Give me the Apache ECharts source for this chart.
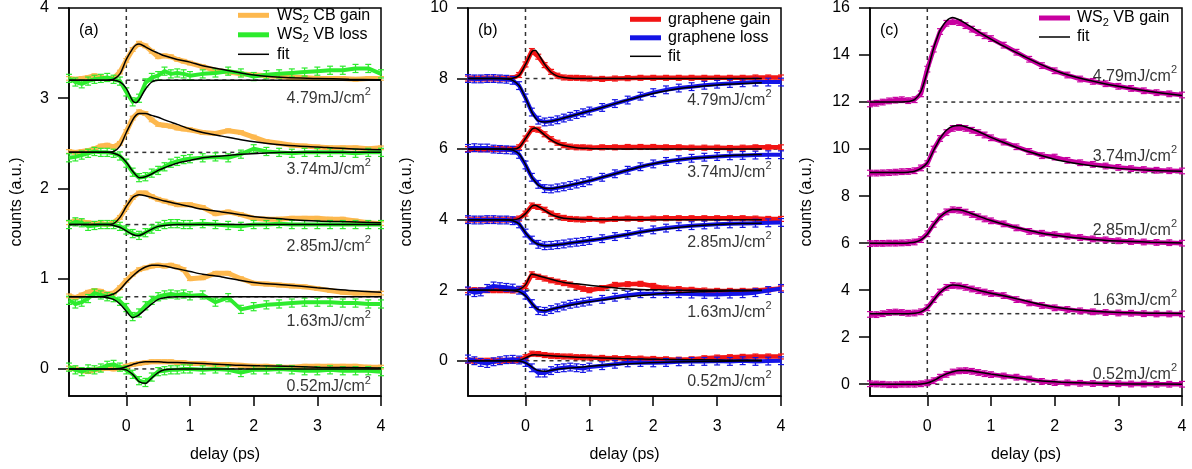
<!DOCTYPE html>
<html>
<head>
<meta charset="utf-8">
<script src="https://cdn.jsdelivr.net/npm/echarts@6/dist/echarts.min.js"></script>
<style>
  html, body { margin: 0; padding: 0; background: #fff; }
  #chart { width: 1192px; height: 469px; }
</style>
</head>
<body>
<div id="chart"></div>
<script>
// ---------------------------------------------------------------------------
// Pump-probe transients: WS2 / graphene heterostructure, five pump fluences.
// Curves are vertically offset for clarity (offsets listed per panel).
// ---------------------------------------------------------------------------

// delay axis of the measured traces (ps)
const delay = [-0.9,-0.8,-0.7,-0.6,-0.5,-0.4,-0.3,-0.2,-0.1,0,0.1,0.2,0.3,0.4,0.5,0.6,0.7,0.8,0.9,1.0,
               1.2,1.4,1.6,1.8,2.0,2.2,2.4,2.6,2.8,3.0,3.2,3.4,3.6,3.8,4.0];
// delay axis of the fitted curves (ps)
const fitDelay  = [-0.9,-0.4,-0.3,-0.2,-0.1,0,0.1,0.15,0.2,0.3,0.4,0.5,0.6,0.8,1.0,1.2,1.5,1.8,2.1,2.5,3.0,3.5,4.0];
const fitDelayB = [-0.9,-0.4,-0.3,-0.2,-0.1,0,0.1,0.15,0.2,0.3,0.4,0.5,0.6,0.8,1.0,1.2,1.5,1.8,2.1,2.5,3.0,3.4,3.7];

const fluences = ['4.79', '3.74', '2.85', '1.63', '0.52'];
const offsetsA = [3.2, 2.4, 1.6, 0.8, 0];
const offsetsB = [8, 6, 4, 2, 0];
const offsetsC = [12, 9, 6, 3, 0];

const xTicks  = [0, 1, 2, 3, 4];
const yTicksA = [0, 1, 2, 3, 4];
const yTicksB = [0, 2, 4, 6, 8, 10];
const yTicksC = [0, 2, 4, 6, 8, 10, 12, 14, 16];

// ----- panel (a): WS2 CB gain / WS2 VB loss -----
const cbGain479 = [3.22,3.21,3.22,3.23,3.25,3.23,3.21,3.22,3.29,3.42,3.54,3.61,3.58,3.52,3.46,3.47,3.46,3.43,3.41,3.39,3.35,3.31,3.29,3.27,3.26,3.25,3.24,3.23,3.23,3.22,3.22,3.22,3.21,3.22,3.22];
const cbGain374 = [2.41,2.40,2.41,2.42,2.44,2.47,2.48,2.46,2.50,2.63,2.78,2.85,2.83,2.76,2.71,2.70,2.69,2.67,2.66,2.65,2.62,2.61,2.64,2.62,2.57,2.52,2.50,2.48,2.47,2.46,2.45,2.45,2.45,2.44,2.45];
const cbGain285 = [1.62,1.64,1.63,1.62,1.61,1.61,1.60,1.62,1.68,1.79,1.90,1.95,1.95,1.91,1.88,1.86,1.84,1.82,1.82,1.82,1.79,1.72,1.74,1.71,1.67,1.66,1.66,1.67,1.67,1.67,1.66,1.66,1.64,1.62,1.61];
const cbGain163 = [0.81,0.79,0.82,0.85,0.87,0.86,0.83,0.84,0.90,0.98,1.05,1.10,1.12,1.14,1.15,1.14,1.15,1.13,1.10,1.00,1.01,1.06,1.06,1.00,0.95,0.94,0.93,0.92,0.91,0.89,0.87,0.85,0.84,0.84,0.84];
const cbGain052 = [0.01,0.00,-0.02,-0.03,-0.01,0.00,0.01,0.00,0.01,0.03,0.05,0.06,0.07,0.08,0.08,0.08,0.08,0.07,0.07,0.06,0.06,0.05,0.05,0.04,0.03,0.03,0.02,0.02,0.03,0.03,0.03,0.03,0.03,0.02,0.02];

const vbLoss479 = [3.22,3.18,3.16,3.19,3.21,3.22,3.23,3.21,3.19,3.07,2.96,3.00,3.17,3.23,3.25,3.30,3.27,3.28,3.27,3.25,3.27,3.28,3.30,3.28,3.24,3.26,3.27,3.28,3.29,3.30,3.31,3.31,3.33,3.33,3.27];
const vbLoss374 = [2.34,2.35,2.37,2.39,2.41,2.40,2.40,2.39,2.36,2.28,2.18,2.12,2.13,2.17,2.20,2.24,2.28,2.30,2.32,2.33,2.34,2.35,2.34,2.38,2.44,2.41,2.40,2.39,2.40,2.40,2.40,2.40,2.39,2.40,2.40];
const vbLoss285 = [1.60,1.63,1.62,1.58,1.59,1.60,1.60,1.60,1.58,1.54,1.50,1.48,1.51,1.55,1.58,1.60,1.61,1.61,1.60,1.60,1.61,1.60,1.59,1.58,1.60,1.60,1.61,1.60,1.60,1.60,1.60,1.60,1.60,1.60,1.60];
const vbLoss163 = [0.76,0.72,0.74,0.78,0.84,0.82,0.80,0.79,0.75,0.68,0.58,0.62,0.70,0.76,0.80,0.82,0.83,0.82,0.83,0.81,0.82,0.74,0.79,0.66,0.69,0.71,0.72,0.73,0.74,0.74,0.74,0.73,0.73,0.72,0.72];
const vbLoss052 = [0.02,-0.01,-0.03,0.00,-0.01,0.01,0.04,0.05,0.02,-0.01,-0.06,-0.13,-0.15,-0.09,-0.03,-0.02,-0.01,-0.01,0.00,0.00,-0.01,0.00,-0.01,-0.04,-0.01,-0.01,0.00,-0.01,-0.02,-0.02,-0.01,-0.02,-0.02,-0.02,-0.03];

const cbFit479 = [3.2,3.2,3.2,3.21,3.27,3.43,3.55,3.59,3.6,3.57,3.53,3.5,3.47,3.43,3.4,3.36,3.32,3.28,3.25,3.23,3.22,3.21,3.205];
const cbFit374 = [2.4,2.4,2.4,2.41,2.47,2.62,2.76,2.81,2.83,2.83,2.81,2.79,2.76,2.71,2.66,2.62,2.58,2.54,2.51,2.48,2.46,2.44,2.43];
const cbFit285 = [1.6,1.6,1.6,1.61,1.68,1.8,1.9,1.92,1.93,1.92,1.9,1.88,1.86,1.83,1.8,1.77,1.74,1.71,1.68,1.66,1.64,1.63,1.62];
const cbFit163 = [0.8,0.8,0.81,0.83,0.88,0.96,1.03,1.06,1.09,1.13,1.15,1.15,1.14,1.11,1.08,1.05,1.02,0.98,0.95,0.93,0.9,0.87,0.85];
const cbFit052 = [0,0,0,0,0.005,0.025,0.05,0.06,0.07,0.08,0.08,0.08,0.075,0.07,0.065,0.06,0.05,0.04,0.035,0.03,0.02,0.015,0.01];

const vbFit479 = [3.2,3.2,3.2,3.2,3.18,3.11,2.97,2.95,2.98,3.1,3.18,3.2,3.2,3.2,3.2,3.2,3.2,3.2,3.2,3.2,3.2,3.2,3.2];
const vbFit374 = [2.4,2.4,2.4,2.39,2.36,2.29,2.19,2.15,2.12,2.13,2.16,2.2,2.23,2.28,2.31,2.34,2.36,2.38,2.39,2.4,2.4,2.4,2.4];
const vbFit285 = [1.6,1.6,1.6,1.59,1.57,1.53,1.49,1.48,1.48,1.51,1.55,1.58,1.59,1.6,1.6,1.6,1.6,1.6,1.6,1.6,1.6,1.6,1.6];
const vbFit163 = [0.8,0.8,0.79,0.77,0.72,0.64,0.57,0.58,0.6,0.66,0.72,0.77,0.79,0.8,0.8,0.8,0.8,0.8,0.8,0.8,0.8,0.8,0.8];
const vbFit052 = [0,0,0,0,0,-0.01,-0.06,-0.1,-0.14,-0.16,-0.1,-0.04,-0.01,0,0,0,0,0,0,0,0,0,0];

// ----- panel (b): graphene gain / graphene loss -----
const grGain479 = [8,8,8,8,8,8,8,8.01,8.1,8.4,8.78,8.62,8.38,8.19,8.08,8.03,8.02,8.02,8.01,8.0,7.99,8.0,8.01,8.02,8.02,8.02,8.02,8.02,8.02,8.02,8.02,8.02,8.03,8.03,8.03];
const grGain374 = [6,6,6,6,6,6,6,6,6.05,6.3,6.57,6.55,6.42,6.28,6.18,6.11,6.07,6.05,6.05,6.04,6.05,6.05,6.06,6.06,6.06,6.05,6.05,6.04,6.04,6.04,6.03,6.04,6.05,6.05,6.05];
const grGain285 = [4,4,4,4,4,4,4,4,4.03,4.17,4.4,4.36,4.28,4.17,4.1,4.05,4.02,4.01,4.0,4.02,3.98,4.02,4.03,4.02,4.03,4.04,4.04,4.04,4.04,4.04,4.04,4.04,4.03,4.02,4.02];
const grGain163 = [2.0,2.0,2.0,2.0,2.0,2.0,2.0,1.99,2.02,2.12,2.45,2.38,2.33,2.28,2.24,2.2,2.16,2.1,2.04,2.0,2.06,2.15,2.17,2.18,2.12,2.05,2.03,2.01,1.99,1.98,1.98,1.98,1.99,2.02,2.05];
const grGain052 = [0,0,0,0,0,0,0,0,0.02,0.1,0.2,0.19,0.16,0.14,0.13,0.12,0.12,0.1,0.1,0.09,0.08,0.07,0.07,0.06,0.05,0.04,0.03,0.04,0.07,0.09,0.1,0.11,0.12,0.12,0.12];

const grLoss479 = [8.0,7.99,7.99,8.0,8.0,7.99,7.98,7.95,7.8,7.45,7.05,6.82,6.77,6.79,6.83,6.88,6.93,6.98,7.03,7.08,7.18,7.29,7.39,7.5,7.6,7.68,7.73,7.77,7.81,7.84,7.86,7.88,7.9,7.9,7.9];
const grLoss374 = [6.02,6.04,6.03,6.03,6.0,5.99,5.98,5.97,5.85,5.55,5.2,5.0,4.88,4.87,4.9,4.93,4.97,5.01,5.05,5.1,5.2,5.3,5.4,5.5,5.58,5.65,5.7,5.74,5.77,5.79,5.81,5.82,5.83,5.84,5.84];
const grLoss285 = [4.0,3.99,3.99,4.0,4.0,3.99,3.99,3.97,3.88,3.62,3.42,3.3,3.26,3.27,3.29,3.31,3.34,3.36,3.38,3.41,3.46,3.52,3.58,3.65,3.71,3.76,3.8,3.83,3.85,3.87,3.88,3.89,3.9,3.91,3.92];
const grLoss163 = [1.98,1.93,1.95,2.05,2.12,2.1,2.08,2.06,2.0,1.86,1.62,1.42,1.4,1.45,1.5,1.55,1.6,1.63,1.66,1.69,1.74,1.8,1.86,1.9,1.9,1.9,1.9,1.89,1.88,1.88,1.89,1.9,1.93,1.99,2.05];
const grLoss052 = [0.05,0,-0.05,-0.08,-0.03,0,0.03,0.04,0.02,-0.05,-0.2,-0.35,-0.35,-0.28,-0.22,-0.2,-0.18,-0.2,-0.22,-0.18,-0.14,-0.1,-0.06,-0.05,-0.06,-0.05,-0.03,-0.02,-0.02,-0.01,-0.02,0,-0.02,-0.01,0];

const grGainFit479 = [8,8,8,8.01,8.09,8.4,8.76,8.8,8.7,8.4,8.18,8.07,8.03,8.0,8,8,8,8,8,8,8,8,8];
const grGainFit374 = [6,6,6,6,6.05,6.3,6.56,6.6,6.55,6.4,6.26,6.16,6.1,6.04,6.02,6.01,6,6,6,6,6,6,6];
const grGainFit285 = [4,4,4,4,4.03,4.17,4.38,4.41,4.37,4.26,4.15,4.08,4.04,4.01,4,4,4,4,4,4,4,4,4];
const grGainFit163 = [2,2,2,2,2.02,2.15,2.45,2.44,2.41,2.36,2.31,2.26,2.22,2.18,2.14,2.1,2.05,2.02,2.01,2.0,2.0,2.0,2.0];
const grGainFit052 = [0,0,0,0,0.01,0.08,0.16,0.17,0.16,0.15,0.14,0.13,0.12,0.1,0.09,0.08,0.06,0.05,0.04,0.03,0.02,0.01,0.01];

const grLossFit479 = [8.0,8.0,7.99,7.95,7.8,7.45,7.05,6.9,6.8,6.77,6.79,6.83,6.88,6.98,7.08,7.18,7.34,7.49,7.62,7.74,7.82,7.86,7.88];
const grLossFit374 = [6.0,6.0,5.99,5.97,5.86,5.56,5.2,5.08,4.98,4.89,4.88,4.91,4.94,5.02,5.1,5.2,5.35,5.5,5.62,5.72,5.79,5.83,5.85];
const grLossFit285 = [4.0,4.0,3.99,3.97,3.88,3.63,3.42,3.35,3.3,3.26,3.27,3.29,3.31,3.36,3.41,3.46,3.55,3.64,3.72,3.8,3.86,3.89,3.9];
const grLossFit163 = [2.0,2.0,2.0,1.99,1.96,1.84,1.62,1.52,1.45,1.42,1.46,1.5,1.54,1.61,1.67,1.72,1.79,1.85,1.9,1.94,1.97,1.98,1.99];
const grLossFit052 = [0,0,0,0,-0.01,-0.06,-0.18,-0.24,-0.28,-0.3,-0.27,-0.24,-0.22,-0.19,-0.16,-0.13,-0.1,-0.07,-0.05,-0.03,-0.02,-0.01,-0.01];

// ----- panel (c): WS2 VB gain -----
const vbGain479 = [11.92,11.95,12.0,12.05,12.08,12.1,12.06,12.1,12.35,13.4,14.25,15.0,15.35,15.42,15.38,15.25,15.1,14.95,14.82,14.7,14.42,14.12,13.82,13.55,13.33,13.15,12.98,12.88,12.78,12.67,12.58,12.48,12.4,12.35,12.3];
const vbGain374 = [8.98,8.98,8.99,9.0,9.02,9.04,9.05,9.08,9.2,9.38,10.0,10.45,10.7,10.88,10.92,10.88,10.8,10.7,10.6,10.48,10.3,10.1,9.9,9.72,9.66,9.52,9.42,9.35,9.28,9.22,9.17,9.13,9.1,9.08,9.07];
const vbGain285 = [5.98,5.99,5.99,6.0,6.0,6.01,6.02,6.05,6.15,6.4,6.8,7.12,7.33,7.42,7.4,7.32,7.22,7.12,7.03,6.95,6.82,6.65,6.5,6.42,6.36,6.3,6.24,6.18,6.14,6.1,6.07,6.05,6.03,6.02,6.0];
const vbGain163 = [2.97,2.96,3.0,3.05,3.07,3.05,3.02,3.03,3.08,3.25,3.6,3.92,4.12,4.2,4.18,4.12,4.05,3.98,3.92,3.86,3.77,3.6,3.46,3.35,3.25,3.18,3.12,3.08,3.05,3.03,3.02,3.0,2.99,2.99,2.99];
const vbGain052 = [0.02,0.01,0,-0.02,-0.02,0,0,0,0.02,0.06,0.15,0.3,0.42,0.52,0.57,0.58,0.55,0.5,0.45,0.41,0.35,0.3,0.22,0.12,0.07,0.06,0.04,0.03,0.02,0.02,0.01,0.01,0,0,0];

const vbGainFit479 = [12.0,12.0,12.02,12.1,12.45,13.3,14.3,14.7,15.05,15.45,15.6,15.5,15.35,15.0,14.68,14.38,13.97,13.58,13.25,12.95,12.67,12.45,12.28];
const vbGainFit374 = [9.0,9.0,9.02,9.06,9.18,9.42,9.95,10.2,10.45,10.8,10.97,11.0,10.95,10.75,10.5,10.28,9.97,9.72,9.5,9.32,9.18,9.1,9.06];
const vbGainFit285 = [6.0,6.0,6.01,6.04,6.14,6.38,6.78,6.95,7.12,7.33,7.43,7.42,7.35,7.15,6.96,6.8,6.6,6.42,6.3,6.18,6.09,6.04,6.01];
const vbGainFit163 = [3.0,3.0,3.0,3.02,3.08,3.25,3.58,3.75,3.9,4.12,4.22,4.2,4.14,4.0,3.87,3.76,3.57,3.38,3.24,3.13,3.05,3.02,3.01];
const vbGainFit052 = [0,0,0,0,0.01,0.05,0.16,0.23,0.31,0.44,0.53,0.58,0.58,0.52,0.43,0.35,0.24,0.14,0.09,0.05,0.02,0.01,0];

// error-bar half heights (counts)
const errCbGain = 0.02, errVbLoss = 0.045, errGrGain = 0.07, errGrLoss = 0.11, errVbGain = 0.12;

// ---------------------------------------------------------------------------
// styling & layout
// ---------------------------------------------------------------------------
const FONT = "'Liberation Sans', Arial, Helvetica, sans-serif";
const COLORS = {
  cbGain: '#FDB84E', vbLoss: '#2DEB2D',
  grGain: '#F21414', grLoss: '#1414E6',
  vbGain: '#C800A0', fit: '#000000', guide: '#333333'
};
const X_MIN = -0.9, X_MAX = 4;

const panelLayout = [
  { grid: { left: 69,  top: 6, width: 312, height: 390 }, yMin: -0.3, yMax: 4,  yTicks: yTicksA, yNameGap: 44, offsets: offsetsA,
    tag: '(a)', tagX: 79,  labelX: 3.85, labelY: [3.0, 2.21, 1.36, 0.53, -0.2] },
  { grid: { left: 468, top: 6, width: 313, height: 390 }, yMin: -1,   yMax: 10, yTicks: yTicksB, yNameGap: 53, offsets: offsetsB,
    tag: '(b)', tagX: 478, labelX: 3.86, labelY: [7.37, 5.33, 3.35, 1.36, -0.6] },
  { grid: { left: 870, top: 6, width: 312, height: 390 }, yMin: -0.5, yMax: 16, yTicks: yTicksC, yNameGap: 55, offsets: offsetsC,
    tag: '(c)', tagX: 880, labelX: 3.93, labelY: [13.08, 9.7, 6.53, 3.56, 0.4] }
];

// legend swatches: horizontal bars, thick for data traces, thin for fits
const SWATCH_THICK = 'path://M0,0h31v5h-31z';
const SWATCH_THIN  = 'path://M0,0h62v3h-62z';

// ---------------------------------------------------------------------------
// series builders
// ---------------------------------------------------------------------------
function pairs(xs, ys) { return xs.map((x, i) => [x, ys[i]]); }

function trace(name, gi, ys, color, width, z) {
  return {
    type: 'line', name, xAxisIndex: gi, yAxisIndex: gi,
    data: pairs(delay, ys), symbol: 'none', showSymbol: false,
    lineStyle: { color, width, join: 'round' }, itemStyle: { color },
    z, silent: true, animation: false
  };
}

function fitCurve(gi, xs, ys) {
  return {
    type: 'line', name: 'fit', xAxisIndex: gi, yAxisIndex: gi,
    data: pairs(xs, ys), symbol: 'none', showSymbol: false, smooth: 0.3,
    lineStyle: { color: COLORS.fit, width: 1.5 }, itemStyle: { color: COLORS.fit },
    z: 4, silent: true, animation: false
  };
}

function errorBars(gi, ys, err, color, z) {
  return {
    type: 'custom', name: 'error', xAxisIndex: gi, yAxisIndex: gi,
    data: delay.map((x, i) => [x, ys[i], err]),
    z, silent: true, animation: false,
    renderItem: (params, api) => {
      const x = api.value(0), y = api.value(1), e = api.value(2);
      const hi = api.coord([x, y + e]);
      const lo = api.coord([x, y - e]);
      const w = 3;
      const st = { stroke: color, lineWidth: 1.2 };
      return {
        type: 'group',
        children: [
          { type: 'line', shape: { x1: hi[0], y1: hi[1], x2: lo[0], y2: lo[1] }, style: st },
          { type: 'line', shape: { x1: hi[0] - w, y1: hi[1], x2: hi[0] + w, y2: hi[1] }, style: st },
          { type: 'line', shape: { x1: lo[0] - w, y1: lo[1], x2: lo[0] + w, y2: lo[1] }, style: st }
        ]
      };
    }
  };
}

function guides(gi, p) {
  const out = [];
  // time-zero marker
  out.push({
    type: 'line', name: 'guide', xAxisIndex: gi, yAxisIndex: gi,
    data: [[0, p.yMin], [0, p.yMax]], symbol: 'none',
    lineStyle: { color: COLORS.guide, width: 1.5, type: [4, 4] }, z: 1, silent: true, animation: false
  });
  // zero line of each offset trace
  p.offsets.forEach(b => out.push({
    type: 'line', name: 'guide', xAxisIndex: gi, yAxisIndex: gi,
    data: [[0, b], [X_MAX, b]], symbol: 'none',
    lineStyle: { color: COLORS.guide, width: 1.5, type: [4, 4] }, z: 1, silent: true, animation: false
  }));
  return out;
}

function fluenceLabels(gi, p) {
  return {
    type: 'scatter', name: 'fluence', xAxisIndex: gi, yAxisIndex: gi,
    data: fluences.map((f, i) => ({ name: f, value: [p.labelX, p.labelY[i]] })),
    symbolSize: 1, itemStyle: { color: 'rgba(0,0,0,0)' }, z: 6, silent: true, animation: false,
    label: {
      show: true, position: 'left', distance: 0,
      formatter: prm => '{m|' + prm.name + 'mJ/cm}{p|2}',
      rich: {
        m: { fontFamily: FONT, fontSize: 16, lineHeight: 24, color: '#000' },
        p: { fontFamily: FONT, fontSize: 11, lineHeight: 11, verticalAlign: 'top', color: '#000' }
      }
    }
  };
}

const series = [];
panelLayout.forEach((p, gi) => guides(gi, p).forEach(s => series.push(s)));

// panel (a)
[cbGain479, cbGain374, cbGain285, cbGain163, cbGain052].forEach(ys => {
  series.push(errorBars(0, ys, errCbGain, COLORS.cbGain, 2));
  series.push(trace('WS2 CB gain', 0, ys, COLORS.cbGain, 5, 2));
});
[vbLoss479, vbLoss374, vbLoss285, vbLoss163, vbLoss052].forEach(ys => {
  series.push(errorBars(0, ys, errVbLoss, COLORS.vbLoss, 3));
  series.push(trace('WS2 VB loss', 0, ys, COLORS.vbLoss, 4, 3));
});
[cbFit479, cbFit374, cbFit285, cbFit163, cbFit052,
 vbFit479, vbFit374, vbFit285, vbFit163, vbFit052].forEach(ys => series.push(fitCurve(0, fitDelay, ys)));

// panel (b)
[grGain479, grGain374, grGain285, grGain163, grGain052].forEach(ys => {
  series.push(errorBars(1, ys, errGrGain, COLORS.grGain, 2));
  series.push(trace('graphene gain', 1, ys, COLORS.grGain, 4.5, 2));
});
[grLoss479, grLoss374, grLoss285, grLoss163, grLoss052].forEach(ys => {
  series.push(errorBars(1, ys, errGrLoss, COLORS.grLoss, 3));
  series.push(trace('graphene loss', 1, ys, COLORS.grLoss, 4, 3));
});
[grGainFit479, grGainFit374, grGainFit285, grGainFit163, grGainFit052,
 grLossFit479, grLossFit374, grLossFit285, grLossFit163, grLossFit052].forEach(ys => series.push(fitCurve(1, fitDelayB, ys)));

// panel (c)
[vbGain479, vbGain374, vbGain285, vbGain163, vbGain052].forEach(ys => {
  series.push(errorBars(2, ys, errVbGain, COLORS.vbGain, 2));
  series.push(trace('WS2 VB gain', 2, ys, COLORS.vbGain, 4.5, 2));
});
[vbGainFit479, vbGainFit374, vbGainFit285, vbGainFit163, vbGainFit052].forEach(ys => series.push(fitCurve(2, fitDelay, ys)));

panelLayout.forEach((p, gi) => series.push(fluenceLabels(gi, p)));

// ---------------------------------------------------------------------------
// axes, legends, panel tags
// ---------------------------------------------------------------------------
const axisText = { fontFamily: FONT, fontSize: 16, color: '#000' };

const xAxis = panelLayout.map((p, gi) => ({
  type: 'value', gridIndex: gi, min: X_MIN, max: X_MAX,
  name: 'delay (ps)', nameLocation: 'middle', nameGap: 51, nameTextStyle: axisText,
  axisLine: { show: true, onZero: false, lineStyle: { color: '#000', width: 1.5 } },
  axisTick: { show: true, inside: false, length: 10, customValues: xTicks, lineStyle: { color: '#000', width: 1.5 } },
  axisLabel: { show: true, customValues: xTicks, margin: 23, ...axisText },
  splitLine: { show: false }
}));

const yAxis = panelLayout.map((p, gi) => ({
  type: 'value', gridIndex: gi, min: p.yMin, max: p.yMax,
  name: 'counts (a.u.)', nameLocation: 'middle', nameRotate: 90, nameGap: p.yNameGap, nameTextStyle: axisText,
  axisLine: { show: true, onZero: false, lineStyle: { color: '#000', width: 1.5 } },
  axisTick: { show: true, inside: false, length: 11, customValues: p.yTicks, lineStyle: { color: '#000', width: 1.5 } },
  axisLabel: { show: true, customValues: p.yTicks, margin: 20, ...axisText },
  splitLine: { show: false }
}));

const grid = panelLayout.map(p => ({
  ...p.grid, show: true, borderColor: '#000', borderWidth: 1.5, backgroundColor: 'transparent', containLabel: false
}));

function legendName(name) {
  if (name.indexOf('WS2') === 0) return '{n|WS}{s|2}{n|' + name.slice(3) + '}';
  return '{n|' + name + '}';
}
const richLegend = {
  n: { fontFamily: FONT, fontSize: 16, lineHeight: 20, color: '#000' },
  s: { fontFamily: FONT, fontSize: 11, lineHeight: 12, verticalAlign: 'bottom', color: '#000' }
};

function legendItem(name, color, thin) {
  return { name, icon: thin ? SWATCH_THIN : SWATCH_THICK, itemStyle: { color, borderWidth: 0 } };
}

const legend = [
  {
    orient: 'vertical', left: 238, top: 7.3, padding: 0, itemGap: 1.5, itemWidth: 31, itemHeight: 20,
    selectedMode: false, formatter: legendName,
    data: [legendItem('WS2 CB gain', COLORS.cbGain), legendItem('WS2 VB loss', COLORS.vbLoss), legendItem('fit', COLORS.fit, true)],
    textStyle: { fontFamily: FONT, fontSize: 16, color: '#000', padding: [0, 0, 0, 3], rich: richLegend }
  },
  {
    orient: 'vertical', left: 630, top: 10.3, padding: 0, itemGap: 0.5, itemWidth: 31, itemHeight: 18,
    selectedMode: false,
    data: [legendItem('graphene gain', COLORS.grGain), legendItem('graphene loss', COLORS.grLoss), legendItem('fit', COLORS.fit, true)],
    textStyle: { fontFamily: FONT, fontSize: 16, lineHeight: 18, color: '#000', padding: [0, 0, 0, 2] }
  },
  {
    orient: 'vertical', left: 1039, top: 10, padding: 0, itemGap: 1, itemWidth: 31, itemHeight: 20,
    selectedMode: false, formatter: legendName,
    data: [legendItem('WS2 VB gain', COLORS.vbGain), legendItem('fit', COLORS.fit, true)],
    textStyle: { fontFamily: FONT, fontSize: 16, color: '#000', padding: [0, 0, 0, 2], rich: richLegend }
  }
];

const graphic = panelLayout.map(p => ({
  type: 'text', left: p.tagX, top: 23, silent: true,
  style: { text: p.tag, font: '16px ' + FONT, fill: '#000' }
}));

const chart = echarts.init(document.getElementById('chart'), null, { renderer: 'canvas' });
chart.setOption({
  animation: false,
  backgroundColor: '#fff',
  grid, xAxis, yAxis, legend, graphic, series
});
</script>
</body>
</html>
